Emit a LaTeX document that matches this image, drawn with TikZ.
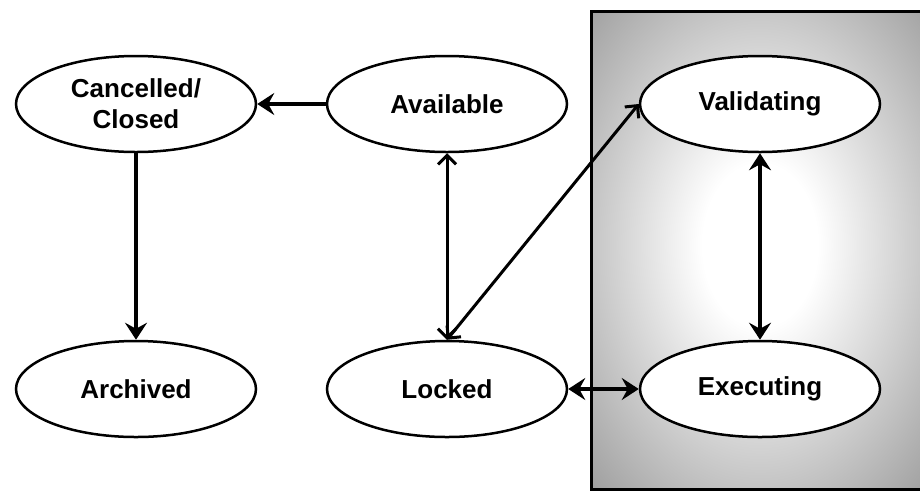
\documentclass[tikz,border=0pt]{standalone}
\usepackage{fontspec}
\setmainfont{Liberation Sans}
\usepackage{tikz}
\usetikzlibrary{arrows.meta,shapes.geometric}
\definecolor{boxgray}{RGB}{160,160,160}
\pgfdeclareradialshading{glow}{\pgfpoint{0bp}{0bp}}{color(0bp)=(white); color(6bp)=(white); color(25bp)=(boxgray); color(50bp)=(boxgray)}

\begin{document}
\begin{tikzpicture}[x=1pt, y=-1pt,
    state/.style={draw, ellipse, line width=2.5pt, fill=white, minimum width=240pt, minimum height=96pt,
        inner sep=0pt, align=center, font=\fontsize{26}{31}\selectfont\bfseries},
    thin/.style={line width=3pt, {Straight Barb[length=9pt,width=18pt]}-{Straight Barb[length=9pt,width=18pt]}},
    heavy/.style={line width=4.5pt, -{Stealth[length=17pt,width=22pt,inset=6pt]}},
    heavyboth/.style={line width=4.5pt, {Stealth[length=17pt,width=22pt,inset=6pt]}-{Stealth[length=17pt,width=22pt,inset=6pt]}}
]
\useasboundingbox (0,0) rectangle (920,491);

% Grey box with glow
\fill[boxgray] (591,11) rectangle (920,489);
\begin{scope}
\clip (591,11) rectangle (920,489);
\shade[shading=glow] (760,245) ellipse [x radius=240, y radius=340];
\end{scope}
\draw[line width=3pt] (922,11) -- (591,11) -- (591,489) -- (922,489);

% States
\node[state] (cancel) at (136,104) {Cancelled/\\Closed};
\node[state] (avail) at (447,104) {Available};
\node[state] (valid) at (760,104) {Validating};
\node[state] (archiv) at (136,389) {Archived};
\node[state] (locked) at (447,389) {Locked};
\node[state] (exec) at (760,389) {Executing};

% Transitions
\draw[heavy] (avail) -- (cancel);
\draw[heavy, line width=4pt] (cancel) -- (archiv);
\draw[thin] (avail) -- (locked);
\draw[thin] (locked.north) -- (valid.west);
\draw[heavyboth, line width=4pt] (valid) -- (exec);
\draw[heavyboth] (locked) -- (exec);

\end{tikzpicture}
\end{document}
